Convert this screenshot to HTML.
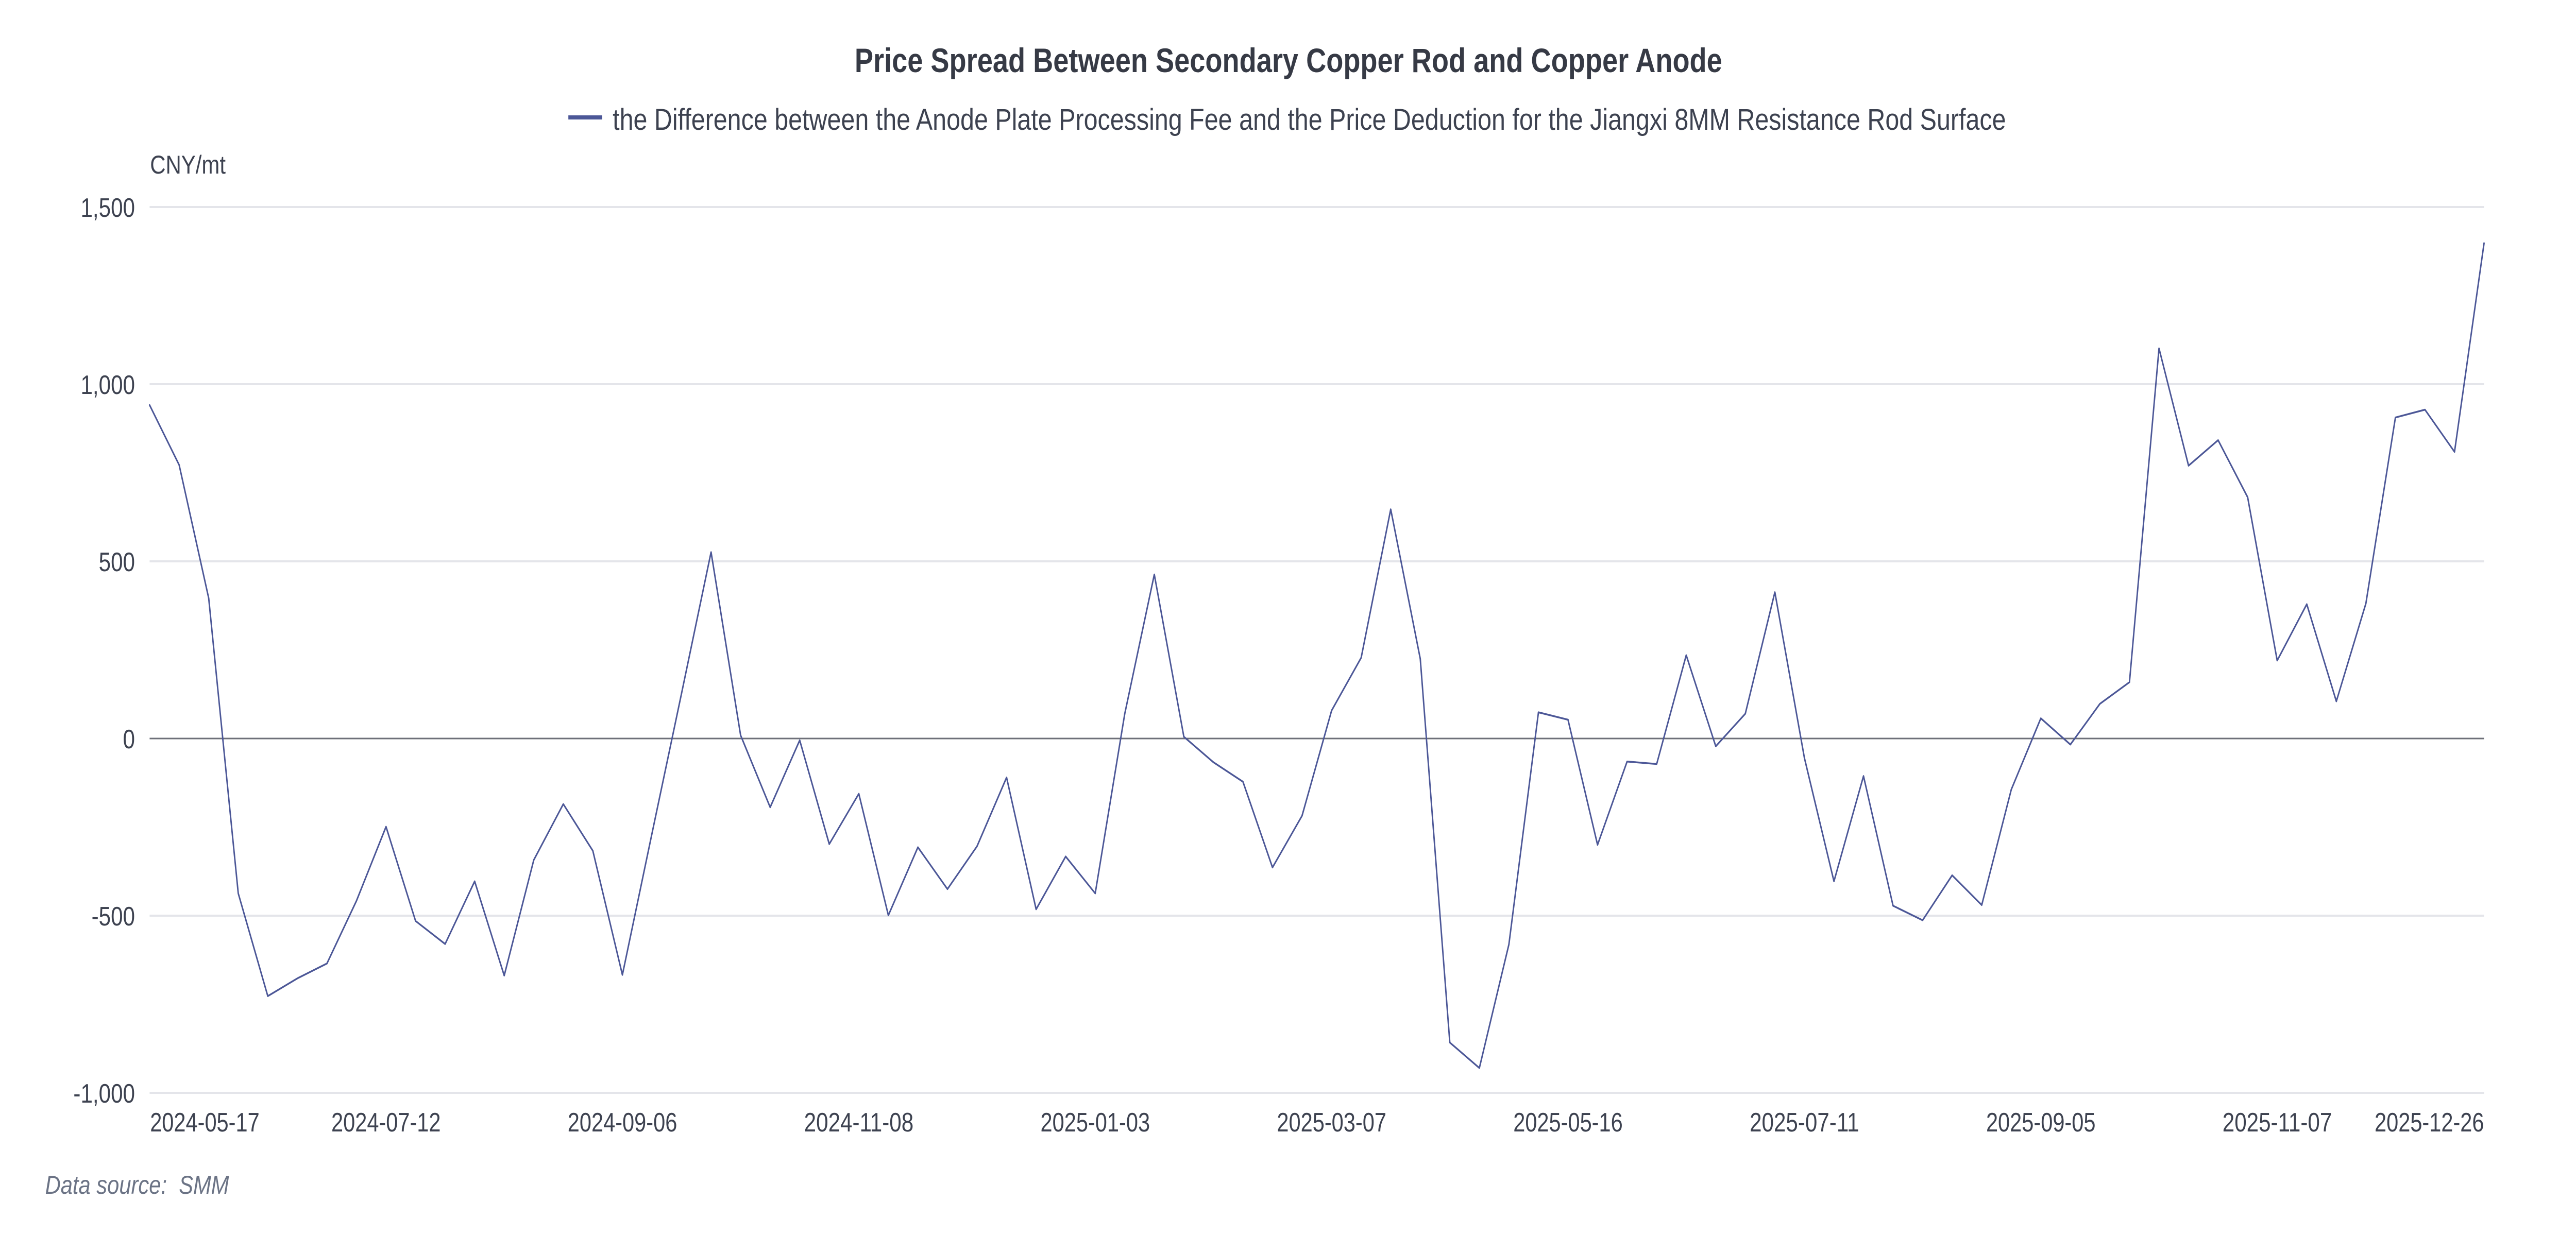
<!DOCTYPE html>
<html>
<head>
<meta charset="utf-8">
<meta name="viewport" content="width=device-width, initial-scale=1">
<style>
html,body{margin:0;padding:0;background:#ffffff;overflow:hidden;width:100%;height:100%;}
svg{display:block;width:100vw;height:100vh;}
text{font-family:"Liberation Sans","DejaVu Sans",sans-serif;}
</style>
</head>
<body>
<svg viewBox="0 0 6164 2400" preserveAspectRatio="none" xmlns="http://www.w3.org/2000/svg">
<rect x="0" y="0" width="6164" height="2400" fill="#ffffff"/>

<!-- Title -->
<text x="2045" y="140" font-size="66" font-weight="bold" fill="#363a45" textLength="2076" lengthAdjust="spacingAndGlyphs">Price Spread Between Secondary Copper Rod and Copper Anode</text>

<!-- Legend -->
<line x1="1360" y1="228" x2="1441" y2="228" stroke="#4c5797" stroke-width="8"/>
<text x="1466" y="252" font-size="58" fill="#3d4250" textLength="3334" lengthAdjust="spacingAndGlyphs">the Difference between the Anode Plate Processing Fee and the Price Deduction for the Jiangxi 8MM Resistance Rod Surface</text>

<!-- Unit -->
<text x="359" y="337" font-size="50" fill="#3d4250" textLength="181" lengthAdjust="spacingAndGlyphs">CNY/mt</text>

<!-- Gridlines -->
<g stroke="#e4e5ea" stroke-width="4">
<line x1="358" y1="402" x2="5944" y2="402"/>
<line x1="358" y1="746" x2="5944" y2="746"/>
<line x1="358" y1="1090" x2="5944" y2="1090"/>
<line x1="358" y1="1778" x2="5944" y2="1778"/>
<line x1="358" y1="2122" x2="5944" y2="2122"/>
</g>
<!-- Zero axis line -->
<line x1="358" y1="1434" x2="5944" y2="1434" stroke="#6e7079" stroke-width="3"/>

<!-- Y axis labels -->
<g font-size="52" fill="#3d4250" text-anchor="end">
<text x="323" y="421">1,500</text>
<text x="323" y="765">1,000</text>
<text x="323" y="1109">500</text>
<text x="323" y="1453">0</text>
<text x="323" y="1797">-500</text>
<text x="323" y="2141">-1,000</text>
</g>

<!-- X axis labels -->
<g font-size="52" fill="#3d4250">
<text x="359" y="2197" textLength="262" lengthAdjust="spacingAndGlyphs">2024-05-17</text>
<text x="923.7" y="2197" text-anchor="middle" textLength="262" lengthAdjust="spacingAndGlyphs">2024-07-12</text>
<text x="1489.3" y="2197" text-anchor="middle" textLength="262" lengthAdjust="spacingAndGlyphs">2024-09-06</text>
<text x="2055" y="2197" text-anchor="middle" textLength="262" lengthAdjust="spacingAndGlyphs">2024-11-08</text>
<text x="2620.7" y="2197" text-anchor="middle" textLength="262" lengthAdjust="spacingAndGlyphs">2025-01-03</text>
<text x="3186.4" y="2197" text-anchor="middle" textLength="262" lengthAdjust="spacingAndGlyphs">2025-03-07</text>
<text x="3752" y="2197" text-anchor="middle" textLength="262" lengthAdjust="spacingAndGlyphs">2025-05-16</text>
<text x="4317.7" y="2197" text-anchor="middle" textLength="262" lengthAdjust="spacingAndGlyphs">2025-07-11</text>
<text x="4883.4" y="2197" text-anchor="middle" textLength="262" lengthAdjust="spacingAndGlyphs">2025-09-05</text>
<text x="5449" y="2197" text-anchor="middle" textLength="262" lengthAdjust="spacingAndGlyphs">2025-11-07</text>
<text x="5682" y="2197" textLength="262" lengthAdjust="spacingAndGlyphs">2025-12-26</text>
</g>

<!-- Series -->
<polyline fill="none" stroke="#4c5797" stroke-width="3.5" stroke-linejoin="round" stroke-linecap="round" points="
358.0,786.6 428.7,902.9 499.4,1161.6 570.1,1734.7 640.8,1934.2 711.5,1899.8 782.3,1870.9 853.0,1749.1 923.7,1605.3 994.4,1788.3
1065.1,1833.0 1135.8,1711.3 1206.5,1894.3 1277.2,1670.0 1347.9,1561.3 1418.6,1652.1 1489.3,1892.9 1560.1,1618.4 1630.8,1346.6 1701.5,1072.1
1772.2,1427.8 1842.9,1567.5 1913.6,1437.4 1984.3,1639.0 2055.0,1541.3 2125.7,1777.3 2196.4,1645.2 2267.1,1726.4 2337.9,1643.2 2408.6,1509.7
2479.3,1765.6 2550.0,1663.1 2620.7,1734.7 2691.4,1385.8 2762.1,1115.5 2832.8,1430.6 2903.5,1480.1 2974.2,1517.9 3044.9,1684.4 3115.6,1584.0
3186.4,1379.6 3257.1,1277.1 3327.8,988.9 3398.5,1279.2 3469.2,2024.3 3539.9,2073.8 3610.6,1833.7 3681.3,1383.1 3752.0,1397.5 3822.7,1640.4
3893.4,1478.7 3964.2,1483.5 4034.9,1272.3 4105.6,1449.1 4176.3,1385.8 4247.0,1149.9 4317.7,1471.8 4388.4,1711.3 4459.1,1506.9 4529.8,1758.7
4600.5,1786.9 4671.2,1699.6 4742.0,1757.4 4812.7,1533.1 4883.4,1394.8 4954.1,1445.7 5024.8,1366.6 5095.5,1324.6 5166.2,676.5 5236.9,904.2
5307.6,854.7 5378.3,965.5 5449.0,1282.6 5519.8,1173.2 5590.5,1361.8 5661.2,1171.9 5731.9,810.7 5802.6,795.5 5873.3,877.4 5944.0,472.2"/>

<!-- Data source -->
<text x="108" y="2318" font-size="50" font-style="italic" fill="#6b7385" textLength="440" lengthAdjust="spacingAndGlyphs">Data source:&#160;&#160;SMM</text>
</svg>
</body>
</html>
